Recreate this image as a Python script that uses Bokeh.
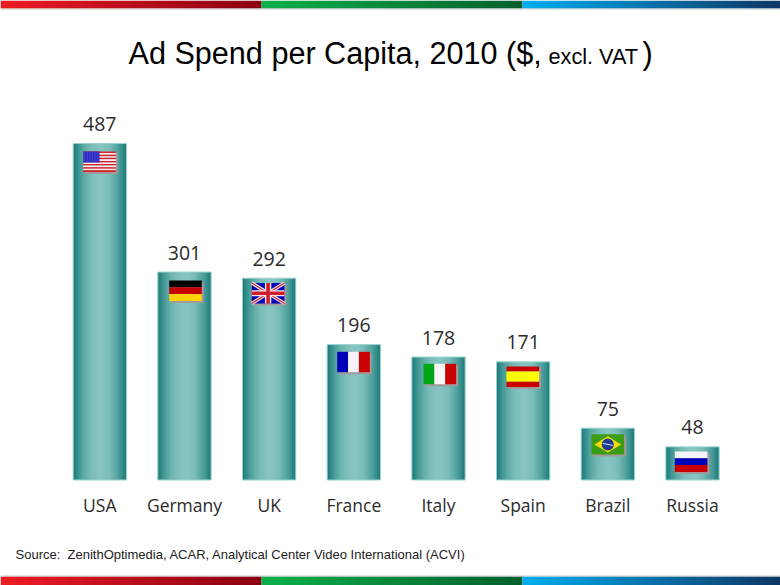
import numpy as np
from bokeh.plotting import figure
from bokeh.models import Range1d
from bokeh.core.properties import value
from bokeh.embed import file_html
from bokeh.resources import INLINE

countries = ["USA", "Germany", "UK", "France", "Italy", "Spain", "Brazil", "Russia"]
spend = [487, 301, 292, 196, 178, 171, 75, 48]
title_parts = ["Ad Spend per Capita, 2010 ($,", "excl. VAT", ")"]
source_text = "Source:\u00a0 ZenithOptimedia, ACAR, Analytical Center Video International (ACVI)"

W, H = 780, 585
BASE_PX, PX_PER_UNIT = 479.5, 0.691
FIRST_PX, STEP_PX, BAR_PX = 99.3, 84.67, 53.3

p = figure(width=W, height=H, output_backend="svg", toolbar_location=None,
           x_range=Range1d(-FIRST_PX / STEP_PX, (W - FIRST_PX) / STEP_PX),
           y_range=Range1d(-(H - BASE_PX) / PX_PER_UNIT, BASE_PX / PX_PER_UNIT),
           min_border=0, min_border_left=0, min_border_right=0, min_border_top=0, min_border_bottom=0,
           background_fill_color="white", border_fill_color="white", outline_line_color=None,
           margin=0)
p.axis.visible = False
p.grid.visible = False
p.extra_x_ranges["px"] = Range1d(0, W)
p.extra_y_ranges["px"] = Range1d(H, 0)
PX = dict(x_range_name="px", y_range_name="px")


def lerp(a, b, t):
    ca = [int(a[i:i + 2], 16) for i in (1, 3, 5)]
    cb = [int(b[i:i + 2], 16) for i in (1, 3, 5)]
    return np.array([[(255 << 24) | (int(ca[2] + (cb[2] - ca[2]) * u) << 16) |
                      (int(ca[1] + (cb[1] - ca[1]) * u) << 8) | int(ca[0] + (cb[0] - ca[0]) * u)
                      for u in t]], dtype=np.uint32)


# header / footer ribbons
ribbons = [(0, 261, "#ee1c25", "#8a0012"), (261, 522, "#0db14b", "#00602d"), (522, 780, "#00aeef", "#0f3766")]
for y0, y1 in [(0, 8), (576, 585)]:
    for x0, x1, c0, c1 in ribbons:
        img = lerp(c0, c1, np.linspace(0, 1, x1 - x0))
        p.image_rgba(image=[img], x=[x0], y=[y0], dw=[x1 - x0], dh=[y1 - y0], **PX)
    p.line([0, W], [y1 + .5 if y0 == 0 else y0 - .5] * 2, line_color="#c8c8c8", line_width=1, **PX)

# bars with cylinder shading
n = 54
t = np.abs(np.linspace(-1, 1, n)) ** 2.0
grad = lerp("#86c5c1", "#1c7c7a", t)
w = BAR_PX / STEP_PX
for i, v in enumerate(spend):
    p.image_rgba(image=[grad], x=[i - w / 2], y=[0], dw=[w], dh=[v])
p.quad(left=[i - w / 2 for i in range(8)], right=[i + w / 2 for i in range(8)],
       bottom=[0] * 8, top=spend, fill_color=None, line_color="#9ad4d0", line_width=1)

# value and category labels
lab = dict(text_font=value("Open Sans"), text_color="#2b2b2b", text_align="center", text_baseline="alphabetic")
p.text(x=list(range(8)), y=spend, text=[str(v) for v in spend], y_offset=-19.5, text_font_size="19.5px", **lab)
p.text(x=list(range(8)), y=[0] * 8, text=countries, y_offset=25, text_font_size="17.5px", **lab)

# flags (pixel layer)
flag_x = [82.7, 168.7, 251.3, 336.7, 423, 506, 591, 674.3]
flag_y = [151, 280, 282.5, 351.3, 363.3, 366, 433.7, 451]
FW, FH = 32.6, 20.4


def box(x0, y0, x1, y1, color):
    p.quad(left=[x0], right=[x1], top=[y0], bottom=[y1], fill_color=color, line_color=None, **PX)


for fx, fy in zip(flag_x, flag_y):
    box(fx + 1.5, fy + 1.5, fx + FW + 2, fy + FH + 2, "#a29a9a")


def vstripes(k, cols):
    for j, c in enumerate(cols):
        box(flag_x[k] + FW * j / 3, flag_y[k], flag_x[k] + FW * (j + 1) / 3, flag_y[k] + FH, c)


def hstripes(k, cols, weights=None):
    weights = weights or [1] * len(cols)
    acc = 0
    tot = sum(weights)
    for c, wt in zip(cols, weights):
        box(flag_x[k], flag_y[k] + FH * acc / tot, flag_x[k] + FW, flag_y[k] + FH * (acc + wt) / tot, c)
        acc += wt


# USA
hstripes(0, ["#d8202a" if j % 2 == 0 else "#f6eeee" for j in range(13)])
box(flag_x[0], flag_y[0], flag_x[0] + FW / 2, flag_y[0] + FH * 7 / 13, "#2a2ac4")
sx, sy = [], []
for r in range(5):
    for c in range(6):
        sx.append(flag_x[0] + 1.5 + c * 2.6)
        sy.append(flag_y[0] + 1.4 + r * 2.0)
p.scatter(sx, sy, size=1.2, color="#5a5ad8", line_color=None, **PX)
# Germany
hstripes(1, ["#000000", "#c40000", "#ffd200"])
# UK
fx, fy = flag_x[2], flag_y[2]
box(fx, fy, fx + FW, fy + FH, "#0000b4")
for a, b in [((fx, fy), (fx + FW, fy + FH)), ((fx, fy + FH), (fx + FW, fy))]:
    p.line([a[0], b[0]], [a[1], b[1]], line_color="#f4e8e8", line_width=3.4, **PX)
    p.line([a[0], b[0]], [a[1], b[1]], line_color="#d01c2c", line_width=1.2, **PX)
box(fx + FW / 2 - 3.2, fy, fx + FW / 2 + 3.2, fy + FH, "#f4e8e8")
box(fx, fy + FH / 2 - 3, fx + FW, fy + FH / 2 + 3, "#f4e8e8")
box(fx + FW / 2 - 1.8, fy, fx + FW / 2 + 1.8, fy + FH, "#d01c2c")
box(fx, fy + FH / 2 - 1.7, fx + FW, fy + FH / 2 + 1.7, "#d01c2c")
# France, Italy
vstripes(3, ["#0000b8", "#f4f4f8", "#c80000"])
vstripes(4, ["#00a818", "#f6f6f6", "#c80000"])
# Spain
hstripes(5, ["#c80000", "#ffff00", "#c80000"], [1, 2, 1])
# Brazil
fx, fy = flag_x[6], flag_y[6]
box(fx, fy, fx + FW, fy + FH, "#3c9c14")
p.patch([fx + 3, fx + FW / 2, fx + FW - 3, fx + FW / 2], [fy + FH / 2, fy + 2, fy + FH / 2, fy + FH - 2],
        fill_color="#f6dc00", line_color=None, **PX)
p.scatter([fx + FW / 2], [fy + FH / 2], size=12, color="#1c3c98", line_color=None, **PX)
p.line([fx + FW / 2 - 5, fx + FW / 2 + 5], [fy + FH / 2 - 1, fy + FH / 2 + 1], line_color="#d8e0e8", line_width=1, **PX)
# Russia
hstripes(7, ["#f4f4f6", "#0000b8", "#c80000"])

# title
ttl = dict(text_font=value("Liberation Sans"), text_color="#000000", text_align="left", text_baseline="alphabetic")
p.text(x=[128], y=[52], text=[title_parts[0]], text_font_size="30.6px", **ttl, **PX)
p.text(x=[548], y=[55.5], text=[title_parts[1]], text_font_size="21.7px", **ttl, **PX)
p.text(x=[642], y=[52], text=[title_parts[2]], text_font_size="30.6px", **ttl, **PX)

# source
p.text(x=[15], y=[554], text=[source_text], text_font=value("Liberation Sans"), text_color="#222222",
       text_align="left", text_baseline="alphabetic", text_font_size="13px", **PX)

open("out.html", "w").write(file_html(p, INLINE))
